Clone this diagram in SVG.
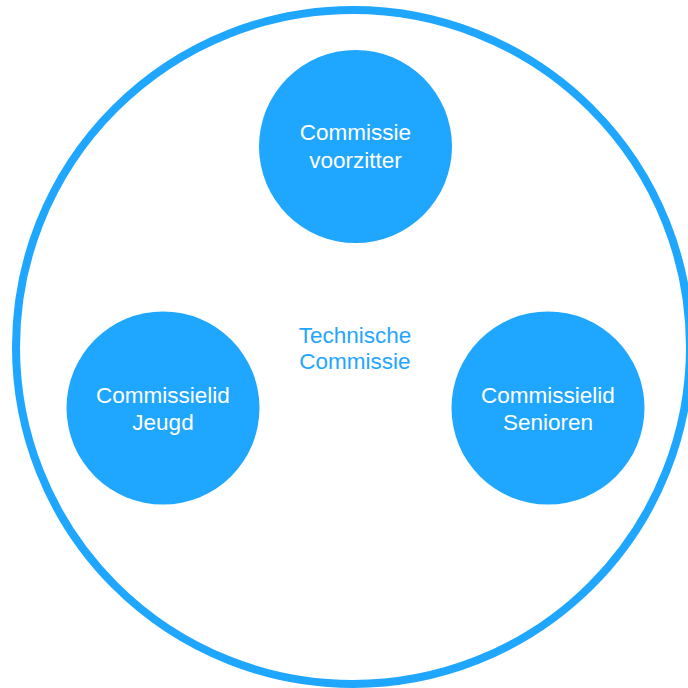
<svg xmlns="http://www.w3.org/2000/svg" width="688" height="688" viewBox="0 0 688 688">
<style>
.node{fill:#1fa6ff;}
.lbl{font-family:"Liberation Sans",Arial,sans-serif;font-size:22.5px;fill:#ffffff;text-anchor:middle;}
.outer{fill:none;stroke:#1fa6ff;stroke-width:8;}
.title{font-family:"Liberation Sans",Arial,sans-serif;font-size:22.5px;fill:#1fa6ff;text-anchor:middle;}
</style>
<rect width="688" height="688" fill="#ffffff"/>
<g id="technische-commissie">
<circle class="outer" cx="353" cy="347" r="337"/>
<text class="title" x="355" y="343">Technische</text>
<text class="title" x="355" y="369">Commissie</text>
</g>
<g id="connectors"></g>
<g id="voorzitter">
<circle class="node" cx="355.5" cy="146.5" r="96.5"/>
<text class="lbl" x="355.5" y="140">Commissie</text>
<text class="lbl" x="355.5" y="168">voorzitter</text>
</g>
<g id="jeugd">
<circle class="node" cx="163" cy="408" r="96.5"/>
<text class="lbl" x="163" y="403">Commissielid</text>
<text class="lbl" x="163" y="430">Jeugd</text>
</g>
<g id="senioren">
<circle class="node" cx="548" cy="408" r="96.5"/>
<text class="lbl" x="548" y="403">Commissielid</text>
<text class="lbl" x="548" y="430">Senioren</text>
</g>
</svg>
